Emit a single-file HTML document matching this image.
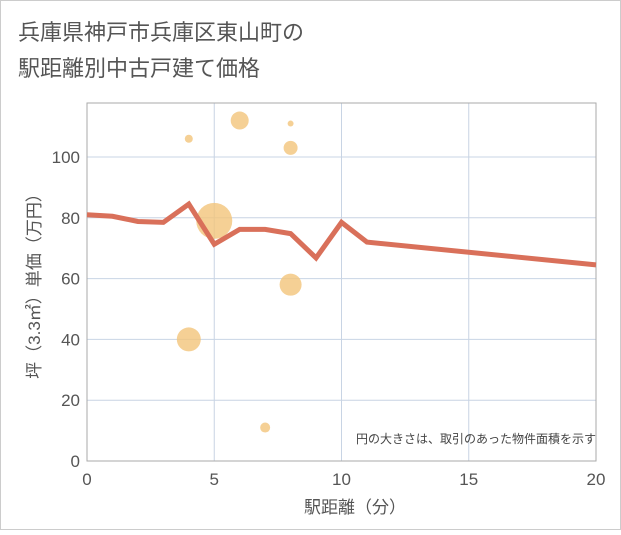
<!DOCTYPE html>
<html><head><meta charset="utf-8"><style>
body{margin:0;background:#fff;font-family:"Liberation Sans","Noto Sans CJK JP",sans-serif}
svg text{font-family:"Liberation Sans","Noto Sans CJK JP",sans-serif}
</style></head><body>
<svg id="c" width="621" height="530">
<rect x="0.5" y="0.5" width="620" height="529" fill="#fff" stroke="#ccc"/>
<text x="18" y="40" font-size="22" fill="#555">兵庫県神戸市兵庫区東山町の</text>
<text x="18" y="76" font-size="22" fill="#555">駅距離別中古戸建て価格</text>
<g id="grid"></g>
<rect x="87" y="103" width="509" height="358" fill="none" stroke="#aaa"/>
<g id="marks"></g>
<text x="596" y="443" font-size="12" fill="#444" text-anchor="end">円の大きさは、取引のあった物件面積を示す</text>
<text x="355" y="513" font-size="17" fill="#555" text-anchor="middle">駅距離（分）</text>
<text transform="translate(40,282) rotate(-90)" font-size="17" fill="#555" text-anchor="middle">坪（3.3㎡）単価（万円）</text>
</svg>
<script>
const xTicks=[0,5,10,15,20];
const yTicks=[0,20,40,60,80,100];
const lineX=[0,1,2,3,4,5,6,7,8,9,10,11,20];
const lineY=[81,80.5,78.8,78.5,84.5,71.3,76.2,76.2,74.8,66.8,78.5,72,64.5];
const bubX=[4,6,8,8,5,8,4,7];
const bubY=[106,112,111,103,79,58,40,11];
const bubR=[4,9,3,7,18,11,12,5];
const NS="http://www.w3.org/2000/svg";
const sx=v=>87+v*509/20, sy=v=>461-v*3.04;
const grid=document.getElementById('grid'), marks=document.getElementById('marks');
function mk(tag,attrs,parent){const e=document.createElementNS(NS,tag);for(const k in attrs)e.setAttribute(k,attrs[k]);parent.appendChild(e);return e;}
xTicks.forEach(t=>{
 const l=mk('line',{x1:sx(t),x2:sx(t),y1:103,y2:461,stroke:'#c8d4e4','stroke-width':1},grid);
 
 
 const tx=mk('text',{x:sx(t),y:485,'font-size':17,fill:'#555','text-anchor':'middle'},grid);tx.textContent=t;
 
 
});
yTicks.forEach(t=>{
 const l=mk('line',{x1:87,x2:596,y1:sy(t),y2:sy(t),stroke:'#c8d4e4','stroke-width':1},grid);
 
 
 const tx=mk('text',{x:80,y:sy(t)+6,'font-size':17,fill:'#555','text-anchor':'end'},grid);tx.textContent=t;
 
 
});
bubX.forEach((v,i)=>{
 const c=mk('circle',{cx:sx(v),cy:sy(bubY[i]),r:bubR[i],fill:'#f2c47a','fill-opacity':0.8},marks);
 
 
});
const p=mk('polyline',{points:lineX.map((v,i)=>sx(v)+','+sy(lineY[i])).join(' '),fill:'none',stroke:'#d9705a','stroke-width':5,'stroke-linejoin':'miter'},marks);


</script>
</body></html>
